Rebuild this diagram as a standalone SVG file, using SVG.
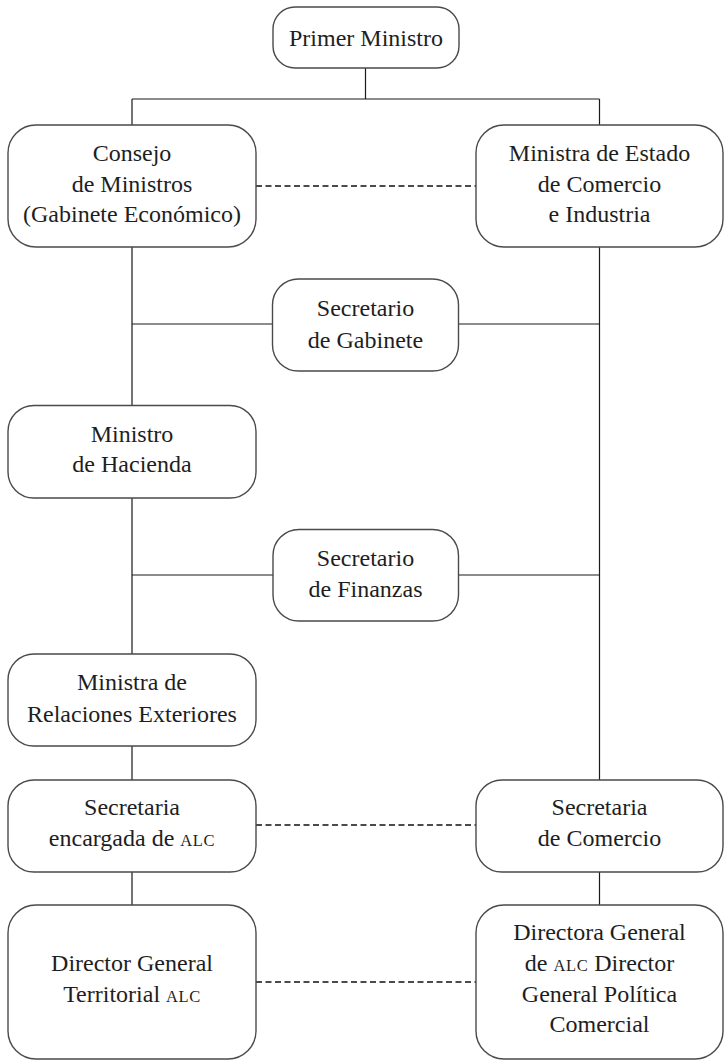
<svg xmlns="http://www.w3.org/2000/svg" width="728" height="1062" viewBox="0 0 728 1062">
<style>
.box{fill:#fff;stroke:#4a4a4a;stroke-width:1.4}
.ln{fill:none;stroke:#1a1a1a;stroke-width:1.2}
.dash{fill:none;stroke:#111;stroke-width:1.4;stroke-dasharray:6 3.5}
.t{font-family:'Liberation Serif',serif;font-size:24px;fill:#1e1e1e;text-anchor:middle}
.sc{font-size:16.5px;letter-spacing:0.6px}
</style>
<rect width="728" height="1062" fill="#fff"/>
<g id="connectors">
<path class="ln" d="M365.5 68V99M132 99H599.5M132 99V125M599.5 99V125"/>
<path class="ln" d="M132 247V406M132 324H273M458 324H599.5M599.5 247V780"/>
<path class="ln" d="M132 498V654M132 575H273M458 575H599.5"/>
<path class="ln" d="M132 746V780M132 872V905M599.5 872V905"/>
<path class="dash" d="M256 186H476M256 825H476M256 982H476"/>
</g>
<g class="t" font-family="Liberation Serif, serif">
<g id="primer-ministro">
<rect class="box" x="273" y="7" width="186" height="61" rx="22"/>
<text x="366" y="45.5">Primer Ministro</text>
</g>
<g id="consejo-ministros">
<rect class="box" x="8" y="125" width="248" height="122" rx="28"/>
<text x="132" y="161">Consejo</text>
<text x="132" y="191.5">de Ministros</text>
<text x="132" y="222">(Gabinete Económico)</text>
</g>
<g id="ministra-estado-comercio">
<rect class="box" x="476" y="125" width="247" height="122" rx="28"/>
<text x="599.5" y="161">Ministra de Estado</text>
<text x="599.5" y="191.5">de Comercio</text>
<text x="599.5" y="222">e Industria</text>
</g>
<g id="secretario-gabinete">
<rect class="box" x="272.5" y="279" width="186" height="92" rx="26"/>
<text x="365.5" y="316">Secretario</text>
<text x="365.5" y="347.5">de Gabinete</text>
</g>
<g id="ministro-hacienda">
<rect class="box" x="8" y="405.5" width="248" height="92.5" rx="26"/>
<text x="132" y="441.5">Ministro</text>
<text x="132" y="472">de Hacienda</text>
</g>
<g id="secretario-finanzas">
<rect class="box" x="273" y="529.5" width="185.5" height="91.5" rx="26"/>
<text x="365.5" y="566">Secretario</text>
<text x="365.5" y="597">de Finanzas</text>
</g>
<g id="ministra-relaciones-exteriores">
<rect class="box" x="8" y="654" width="248" height="92" rx="26"/>
<text x="132" y="690">Ministra de</text>
<text x="132" y="721.5">Relaciones Exteriores</text>
</g>
<g id="secretaria-alc">
<rect class="box" x="8" y="780" width="248" height="92" rx="26"/>
<text x="132" y="815">Secretaria</text>
<text x="132" y="846">encargada de <tspan class="sc">ALC</tspan></text>
</g>
<g id="secretaria-comercio">
<rect class="box" x="476" y="780" width="247" height="92" rx="26"/>
<text x="599.5" y="815">Secretaria</text>
<text x="599.5" y="846">de Comercio</text>
</g>
<g id="director-territorial-alc">
<rect class="box" x="8" y="905" width="248" height="154" rx="28"/>
<text x="132" y="970.5">Director General</text>
<text x="132" y="1001.5">Territorial <tspan class="sc">ALC</tspan></text>
</g>
<g id="directora-general-alc">
<rect class="box" x="476" y="905" width="247" height="154" rx="28"/>
<text x="599.5" y="940">Directora General</text>
<text x="599.5" y="970.5">de <tspan class="sc">ALC</tspan> Director</text>
<text x="599.5" y="1001.5">General Política</text>
<text x="599.5" y="1032">Comercial</text>
</g>
</g>
</svg>
